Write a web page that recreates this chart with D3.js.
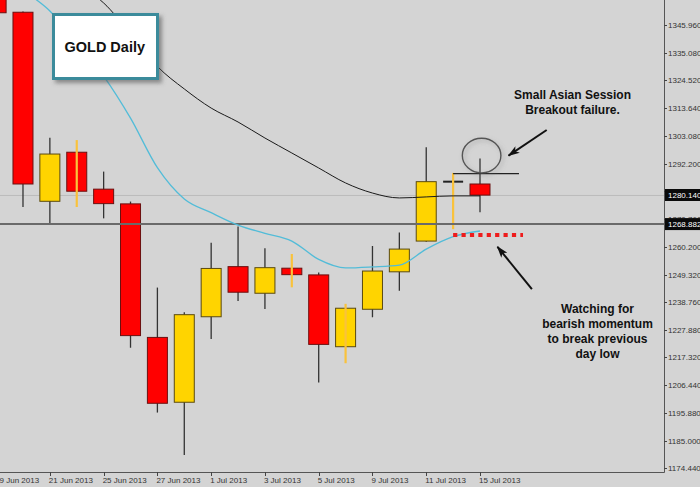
<!DOCTYPE html>
<html><head><meta charset="utf-8">
<script src="https://cdn.jsdelivr.net/npm/d3@7"></script>
<style>html,body{margin:0;padding:0;background:#d4d4d4;overflow:hidden}</style>
</head><body><svg id="c" width="700" height="487"></svg>
<script>
// ---- data ----
const dates = ["19 Jun 2013","20 Jun 2013","21 Jun 2013","24 Jun 2013","25 Jun 2013","26 Jun 2013","27 Jun 2013","28 Jun 2013",
  "1 Jul 2013","2 Jul 2013","3 Jul 2013","4 Jul 2013","5 Jul 2013","8 Jul 2013","9 Jul 2013","10 Jul 2013","11 Jul 2013","12 Jul 2013","15 Jul 2013"];
const openP  = [1368.0,1350.9,1277.7,1296.7,1282.4,1276.7,1225.0,1199.9,1233.0,1252.4,1242.1,1251.8,1249.2,1221.4,1235.9,1250.4,1262.3,1285.3,1284.4];
const highP  = [1372.0,1351.2,1302.3,1301.4,1289.2,1277.6,1244.3,1234.7,1261.7,1267.9,1259.5,1257.3,1250.1,1238.0,1260.4,1265.6,1298.6,1288.7,1294.3];
const lowP   = [1348.5,1275.5,1268.5,1275.5,1271.1,1221.0,1195.9,1179.5,1224.4,1239.1,1236.0,1244.4,1207.5,1215.0,1232.8,1243.1,1262.0,1266.9,1273.5];
const closeP = [1350.7,1284.4,1296.0,1281.6,1276.8,1225.7,1199.5,1233.8,1251.7,1242.5,1252.0,1249.3,1222.3,1236.3,1250.7,1259.2,1285.3,1285.2,1280.1];
const yellowWick = [0,0,0,1,0,0,0,0,0,0,0,1,0,1,0,0,0,1,0];
const maFast = [1371.1,1359.9,1351.4,1339.1,1326.2,1309.9,1290.7,1278.6,1273.3,1268.5,1265.3,1262.3,1255.2,1251.9,1252.3,1253.0,1259.2,1264.0,1266.2];
const maSlow = [1382.7,1375.0,1368.0,1361.5,1354.5,1342.5,1329.9,1321.2,1313.8,1308.4,1302.2,1296.4,1290.6,1284.8,1280.9,1279.0,1279.4,1279.8,1279.8];
const yTicks = [1345.960,1335.080,1324.520,1313.640,1303.080,1292.200,1281.640,1270.760,1260.200,1249.320,1238.760,1227.880,1217.320,1206.440,1195.880,1185.000,1174.440];
const bidPrice = 1280.140;
const levelPrice = 1268.882;
const breakoutLevel = 1288.4;
const prevLow = 1264.7;
const noteTop = ["Small Asian Session","Breakout failure."];
const noteBottom = ["Watching for","bearish momentum","to break previous","day low"];
const title = "GOLD Daily";

// ---- layout ----
const W=700,H=487, plotR=664, plotB=472;
const svg = d3.select("#c");
const defs = svg.append("defs");
defs.append("clipPath").attr("id","clip").append("rect").attr("x",0).attr("y",0).attr("width",plotR).attr("height",plotB);
const f = defs.append("filter").attr("id","sh").attr("x","-20%").attr("y","-20%").attr("width","150%").attr("height","160%");
f.append("feDropShadow").attr("dx",3).attr("dy",3).attr("stdDeviation",2).attr("flood-color","#555").attr("flood-opacity",0.6);
const f2 = defs.append("filter").attr("id","sh2").attr("x","-30%").attr("y","-30%").attr("width","170%").attr("height","170%");
f2.append("feDropShadow").attr("dx",2).attr("dy",2).attr("stdDeviation",2).attr("flood-color","#777").attr("flood-opacity",0.5);
defs.append("marker").attr("id","ah").attr("markerUnits","userSpaceOnUse")
  .attr("viewBox","0 0 12 8").attr("refX",11).attr("refY",4).attr("markerWidth",12).attr("markerHeight",8).attr("orient","auto")
  .append("path").attr("d","M0,0 L12,4 L0,8 L3,4 z").attr("fill","#111");

svg.append("rect").attr("width",W).attr("height",H).attr("fill","#d4d4d4");

const x = d3.scaleLinear().domain([0,18]).range([-3.9,480]);
const y = d3.scaleLinear().domain([1174.44,1345.96]).range([468,25]);
const idx = d3.range(dates.length);
const bw = 20;

const plot = svg.append("g").attr("clip-path","url(#clip)");

// bid line (light)
plot.append("line").attr("x1",0).attr("x2",plotR).attr("y1",y(bidPrice)+0.5).attr("y2",y(bidPrice)+0.5)
  .attr("stroke","#bcbcbc").attr("stroke-width",1);

// candles
const cg = plot.append("g");
idx.forEach(i=>{
  const cx = x(i);
  const up = closeP[i] >= openP[i];
  const wc = yellowWick[i] ? "#f9c23c" : "#333";
  const wick = () => cg.append("line").attr("x1",cx).attr("x2",cx).attr("y1",y(highP[i])).attr("y2",y(lowP[i]))
      .attr("stroke",wc).attr("stroke-width",yellowWick[i]?2.2:1.3);
  if(!yellowWick[i]) wick();
  const top = y(Math.max(openP[i],closeP[i])), bot = y(Math.min(openP[i],closeP[i]));
  if (bot - top < 1.5) {
    cg.append("line").attr("x1",cx-bw/2).attr("x2",cx+bw/2).attr("y1",top).attr("y2",top)
      .attr("stroke","#222").attr("stroke-width",2);
  } else {
    cg.append("rect").attr("x",cx-bw/2).attr("y",top).attr("width",bw).attr("height",bot-top)
      .attr("fill", up ? "#ffd400" : "#ff0000").attr("stroke", up ? "#5a4a10" : "#6a1010").attr("stroke-width",1);
  }
  if(yellowWick[i]) wick();
});

// level line
plot.append("line").attr("x1",0).attr("x2",plotR).attr("y1",y(levelPrice)).attr("y2",y(levelPrice))
  .attr("stroke","#6a6a6a").attr("stroke-width",2);

// moving averages
const line = d3.line().x((d,i)=>x(i)).y(d=>y(d)).curve(d3.curveMonotoneX);
plot.append("path").attr("d",line(maSlow)).attr("fill","none").attr("stroke","#1a1a1a").attr("stroke-width",1);
plot.append("path").attr("d",line(maFast)).attr("fill","none").attr("stroke","#52bcd8").attr("stroke-width",1.3);

// annotations: breakout level, previous day low
plot.append("line").attr("x1",x(17)).attr("x2",x(19.45)).attr("y1",y(breakoutLevel)).attr("y2",y(breakoutLevel))
  .attr("stroke","#222").attr("stroke-width",1.3);
plot.append("line").attr("x1",x(17)).attr("x2",x(19.6)).attr("y1",y(prevLow)).attr("y2",y(prevLow))
  .attr("stroke","#ee1c1c").attr("stroke-width",4).attr("stroke-dasharray","4.2,4.2");

// circle
plot.append("ellipse").attr("cx",x(18.06)).attr("cy",y(1295.4)).attr("rx",19.3).attr("ry",17.3)
  .attr("fill","none").attr("stroke","#555").attr("stroke-width",1.4).attr("filter","url(#sh2)");

// arrows
plot.append("line").attr("x1",x(20.48)).attr("y1",y(1305.3)).attr("x2",x(19.06)).attr("y2",y(1295.4))
  .attr("stroke","#111").attr("stroke-width",2).attr("marker-end","url(#ah)");
plot.append("line").attr("x1",x(19.93)).attr("y1",y(1243.7)).attr("x2",x(18.65)).attr("y2",y(1260.1))
  .attr("stroke","#111").attr("stroke-width",2).attr("marker-end","url(#ah)");

// notes
const tf = "'Liberation Sans', Arial, sans-serif";
plot.append("text").attr("x",572.5).attr("y",98.5).attr("text-anchor","middle").attr("font-family",tf)
  .attr("font-weight","bold").attr("font-size",12).attr("fill","#111")
  .selectAll("tspan").data(noteTop).join("tspan").attr("x",572.5).attr("dy",(d,i)=>i?15.8:0).text(d=>d);
plot.append("text").attr("x",597.5).attr("y",312.7).attr("text-anchor","middle").attr("font-family",tf)
  .attr("font-weight","bold").attr("font-size",12).attr("fill","#111")
  .selectAll("tspan").data(noteBottom).join("tspan").attr("x",597.5).attr("dy",(d,i)=>i?15:0).text(d=>d);

// title box
plot.append("rect").attr("x",53.5).attr("y",14.5).attr("width",104).attr("height",64)
  .attr("fill","#fff").attr("stroke","#3a8b9b").attr("stroke-width",3).attr("filter","url(#sh)");
plot.append("text").attr("x",64.5).attr("y",52).attr("font-family",tf)
  .attr("font-weight","bold").attr("font-size",15).attr("textLength",80.5).attr("lengthAdjust","spacingAndGlyphs")
  .attr("fill","#111").text(title);

// frame
svg.append("line").attr("x1",plotR+0.5).attr("x2",plotR+0.5).attr("y1",0).attr("y2",plotB+0.5).attr("stroke","#555").attr("stroke-width",1);
svg.append("line").attr("x1",0).attr("x2",plotR+0.5).attr("y1",plotB+0.5).attr("y2",plotB+0.5).attr("stroke","#555").attr("stroke-width",1);

// y axis
const af = "'Liberation Sans', Tahoma, sans-serif";
const ya = svg.append("g");
yTicks.forEach(t=>{
  ya.append("line").attr("x1",plotR).attr("x2",plotR+3).attr("y1",Math.round(y(t))+0.5).attr("y2",Math.round(y(t))+0.5).attr("stroke","#444");
  ya.append("text").attr("x",plotR+4).attr("y",y(t)+3).attr("font-family",af).attr("font-size",8).attr("fill","#333").text(t.toFixed(3));
});
[bidPrice, levelPrice].forEach(t=>{
  ya.append("rect").attr("x",plotR+1).attr("y",y(t)-6).attr("width",W-plotR).attr("height",12).attr("fill","#0a0a0a");
  ya.append("text").attr("x",plotR+4).attr("y",y(t)+3).attr("font-family",af).attr("font-size",8).attr("fill","#fff").text(t.toFixed(3));
});

// x axis
const xa = svg.append("g");
idx.filter(i=>i%2===0).forEach(i=>{
  const tx = Math.round(x(i))+0.5;
  xa.append("line").attr("x1",tx).attr("x2",tx).attr("y1",plotB).attr("y2",plotB+4).attr("stroke","#444");
  xa.append("text").attr("x",x(i)-1).attr("y",483).attr("font-family",af).attr("font-size",8).attr("fill","#333").text(dates[i]);
});
</script></body></html>
